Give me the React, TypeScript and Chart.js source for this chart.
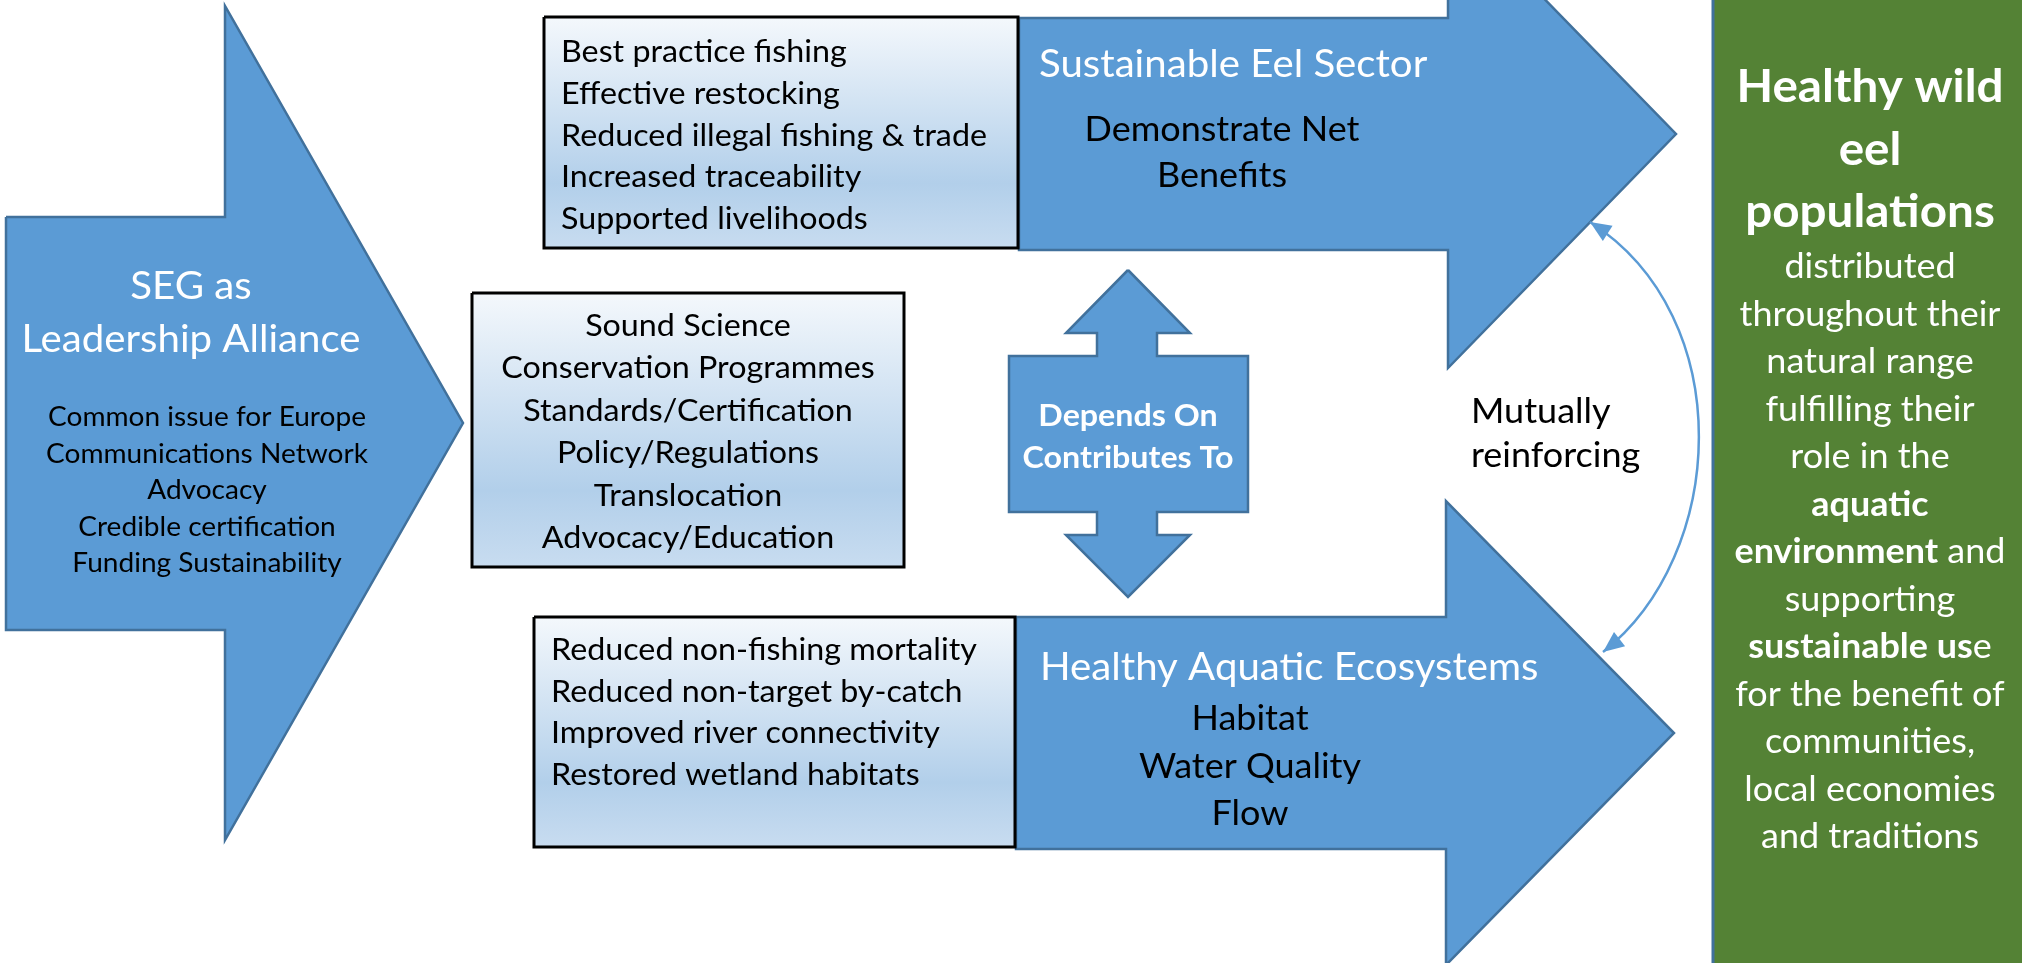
import React, { useEffect, useRef } from "react";
import { Chart, registerables } from "chart.js";

Chart.register(...registerables);

// ---------------- DATA (diagram coordinates = reference pixels) ----------------
const CANVAS_W = 2022;
const CANVAS_H = 963;

// shape outlines (vertex lists)
const segArrow: number[][] = [[6, 217], [225, 217], [225, 6], [463, 423], [225, 840], [225, 630], [6, 630]];
const sectorArrow: number[][] = [[1019, 18], [1448, 18], [1448, -100], [1676, 134], [1448, 368], [1448, 250], [1019, 250]];
const ecosystemArrow: number[][] = [[1016, 617], [1446, 617], [1446, 501], [1674, 733], [1446, 965], [1446, 849], [1016, 849]];
const linkArrow: number[][] = [
  [1128, 270], [1190, 333], [1157, 333], [1157, 356], [1248, 356], [1248, 512], [1157, 512], [1157, 535],
  [1190, 535], [1128, 597], [1066, 535], [1097, 535], [1097, 512], [1009, 512], [1009, 356], [1097, 356],
  [1097, 333], [1066, 333],
];
const fishingBox: number[][] = [[544, 17], [1018, 17], [1018, 248], [544, 248]];
const scienceBox: number[][] = [[472, 293], [904, 293], [904, 567], [472, 567]];
const ecosystemBox: number[][] = [[534, 617], [1015, 617], [1015, 847], [534, 847]];
const outcomePanel: number[][] = [[1713, -10], [2040, -10], [2040, 975], [1713, 975]];
// curved double-headed connector: start, control 1, control 2, end
const mutualCurve: number[][] = [[1590, 222], [1740, 318], [1726, 556], [1603, 652]];

// text content
const segTitle = ["SEG as", "Leadership Alliance"];
const segItems = ["Common issue for Europe", "Communications Network", "Advocacy", "Credible certification", "Funding Sustainability"];
const fishingItems = ["Best practice fishing", "Effective restocking", "Reduced illegal fishing & trade", "Increased traceability", "Supported livelihoods"];
const scienceItems = ["Sound Science", "Conservation Programmes", "Standards/Certification", "Policy/Regulations", "Translocation", "Advocacy/Education"];
const ecosystemItems = ["Reduced non-fishing mortality", "Reduced non-target by-catch", "Improved river connectivity", "Restored wetland habitats"];
const sectorTitle = ["Sustainable Eel Sector"];
const sectorItems = ["Demonstrate Net", "Benefits"];
const aquaticTitle = ["Healthy Aquatic Ecosystems"];
const aquaticItems = ["Habitat", "Water Quality", "Flow"];
const linkItems = ["Depends On", "Contributes To"];
const mutualItems = ["Mutually", "reinforcing"];
const outcomeHead = ["Healthy wild", "eel", "populations"];
type Run = [string, boolean];
const outcomeBody: Run[][] = [
  [["distributed", false]],
  [["throughout their", false]],
  [["natural range", false]],
  [["fulfilling their", false]],
  [["role in the", false]],
  [["aquatic", true]],
  [["environment", true], [" and", false]],
  [["supporting", false]],
  [["sustainable us", true], ["e", false]],
  [["for the benefit of", false]],
  [["communities,", false]],
  [["local economies", false]],
  [["and traditions", false]],
];

// ---------------- STYLE / LAYOUT ----------------
const BLUE = "#5B9BD5";
const BLUE_EDGE = "#41719C";
const GREEN = "#548235";
const FAMILY = "Lato, 'Open Sans', 'DejaVu Sans', sans-serif";
const SIZE_FACTOR = 0.9; // Lato vs Calibri size
// calibration: Calibri widths measured on the reference
const CAL_REG = { text: "Reduced illegal fishing & trade", size: 34.5, width: 426 };
const CAL_BOLD = { text: "Contributes To", size: 34.5, width: 211 };

type Align = "left" | "center";
interface Block {
  lines: Run[][];
  x: number;
  y0: number;
  dy: number;
  size: number;
  color: string;
  align: Align;
}
const plain = (arr: string[], bold = false): Run[][] => arr.map((t) => [[t, bold] as Run]);

const blocks: Block[] = [
  { lines: plain(segTitle), x: 191, y0: 299, dy: 53, size: 43, color: "#fff", align: "center" },
  { lines: plain(segItems), x: 207, y0: 426, dy: 36.6, size: 30, color: "#000", align: "center" },
  { lines: plain(fishingItems), x: 561, y0: 62, dy: 41.8, size: 34.5, color: "#000", align: "left" },
  { lines: plain(scienceItems), x: 688, y0: 336, dy: 42.4, size: 34.5, color: "#000", align: "center" },
  { lines: plain(ecosystemItems), x: 551, y0: 660, dy: 41.7, size: 34.5, color: "#000", align: "left" },
  { lines: plain(sectorTitle), x: 1039, y0: 77, dy: 0, size: 43, color: "#fff", align: "left" },
  { lines: plain(sectorItems), x: 1222, y0: 141, dy: 46, size: 38.5, color: "#000", align: "center" },
  { lines: plain(aquaticTitle), x: 1040, y0: 680, dy: 0, size: 43, color: "#fff", align: "left" },
  { lines: plain(aquaticItems), x: 1250, y0: 730, dy: 47.5, size: 38.5, color: "#000", align: "center" },
  { lines: plain(linkItems, true), x: 1128, y0: 426, dy: 42, size: 34.5, color: "#fff", align: "center" },
  { lines: plain(mutualItems), x: 1471, y0: 423, dy: 44, size: 38.5, color: "#000", align: "left" },
  { lines: plain(outcomeHead, true), x: 1870, y0: 102, dy: 62.5, size: 51, color: "#fff", align: "center" },
  { lines: outcomeBody, x: 1870, y0: 278, dy: 47.5, size: 38.5, color: "#fff", align: "center" },
];

interface ShapeDef {
  pts: number[][];
  fill: string;
  stroke: string;
  width: number;
  order: number;
}
const shapes: ShapeDef[] = [
  { pts: fishingBox, fill: "gradient", stroke: "#000", width: 3, order: 0 },
  { pts: scienceBox, fill: "gradient", stroke: "#000", width: 3, order: 0 },
  { pts: ecosystemBox, fill: "gradient", stroke: "#000", width: 3, order: 0 },
  { pts: segArrow, fill: BLUE, stroke: BLUE_EDGE, width: 2.5, order: 1 },
  { pts: sectorArrow, fill: BLUE, stroke: BLUE_EDGE, width: 2.5, order: 1 },
  { pts: ecosystemArrow, fill: BLUE, stroke: BLUE_EDGE, width: 2.5, order: 1 },
  { pts: linkArrow, fill: BLUE, stroke: BLUE_EDGE, width: 2.5, order: 1 },
  { pts: outcomePanel, fill: GREEN, stroke: BLUE_EDGE, width: 3, order: 1 },
];

function fontFor(size: number, bold: boolean) {
  return `${bold ? "bold " : ""}${(size * SIZE_FACTOR).toFixed(2)}px ${FAMILY}`;
}

const shapeFillPlugin = {
  id: "shapeFill",
  beforeDatasetDraw(chart: any, args: any) {
    const ds = chart.data.datasets[args.index];
    const pts = args.meta.data;
    if (!ds.shapeFill || pts.length < 3) return;
    const ctx: CanvasRenderingContext2D = chart.ctx;
    ctx.save();
    ctx.beginPath();
    pts.forEach((p: any, i: number) => (i ? ctx.lineTo(p.x, p.y) : ctx.moveTo(p.x, p.y)));
    ctx.closePath();
    if (ds.shapeFill === "gradient") {
      const ys = pts.map((p: any) => p.y);
      const top = Math.min(...ys);
      const bot = Math.max(...ys);
      const g = ctx.createLinearGradient(0, top, 0, bot);
      g.addColorStop(0, "#F4F8FC");
      g.addColorStop(0.72, "#B2CFEA");
      g.addColorStop(1, "#C8DCF0");
      ctx.fillStyle = g;
    } else {
      ctx.fillStyle = ds.shapeFill;
    }
    ctx.fill();
    ctx.restore();
  },
};

const curvePlugin = {
  id: "mutualCurve",
  afterDatasetsDraw(chart: any) {
    const ctx: CanvasRenderingContext2D = chart.ctx;
    const sx = chart.scales.x;
    const sy = chart.scales.y;
    const p = mutualCurve.map(([x, y]) => [sx.getPixelForValue(x), sy.getPixelForValue(y)]);
    ctx.save();
    ctx.strokeStyle = BLUE;
    ctx.fillStyle = BLUE;
    ctx.lineWidth = 2.5;
    ctx.beginPath();
    ctx.moveTo(p[0][0], p[0][1]);
    ctx.bezierCurveTo(p[1][0], p[1][1], p[2][0], p[2][1], p[3][0], p[3][1]);
    ctx.stroke();
    const head = (tip: number[], from: number[]) => {
      let dx = tip[0] - from[0];
      let dy = tip[1] - from[1];
      const len = Math.hypot(dx, dy) || 1;
      dx /= len;
      dy /= len;
      const L = 21;
      const w = 9;
      const bx = tip[0] - dx * L;
      const by = tip[1] - dy * L;
      ctx.beginPath();
      ctx.moveTo(tip[0], tip[1]);
      ctx.lineTo(bx - dy * w, by + dx * w);
      ctx.lineTo(bx + dy * w, by - dx * w);
      ctx.closePath();
      ctx.fill();
    };
    head(p[0], p[1]);
    head(p[3], p[2]);
    ctx.restore();
  },
};

const textPlugin = {
  id: "diagramText",
  afterDraw(chart: any) {
    const ctx: CanvasRenderingContext2D = chart.ctx;
    const sx = chart.scales.x;
    const sy = chart.scales.y;
    ctx.save();
    ctx.font = fontFor(CAL_REG.size, false);
    let kR = CAL_REG.width / ctx.measureText(CAL_REG.text).width;
    ctx.font = fontFor(CAL_BOLD.size, true);
    let kB = CAL_BOLD.width / ctx.measureText(CAL_BOLD.text).width;
    kR = Math.min(1.25, Math.max(0.75, kR || 1));
    kB = Math.min(1.25, Math.max(0.75, kB || 1));
    ctx.textBaseline = "alphabetic";
    ctx.textAlign = "left";
    for (const b of blocks) {
      ctx.fillStyle = b.color;
      b.lines.forEach((runs, i) => {
        const x = sx.getPixelForValue(b.x);
        const y = sy.getPixelForValue(b.y0 + i * b.dy);
        const widths = runs.map(([t, bold]) => {
          ctx.font = fontFor(b.size, bold);
          return ctx.measureText(t).width * (bold ? kB : kR);
        });
        const total = widths.reduce((a, c) => a + c, 0);
        let cx = b.align === "center" ? x - total / 2 : x;
        runs.forEach(([t, bold], j) => {
          ctx.font = fontFor(b.size, bold);
          ctx.save();
          ctx.translate(cx, y);
          ctx.scale(bold ? kB : kR, 1);
          ctx.fillText(t, 0, 0);
          ctx.restore();
          cx += widths[j];
        });
      });
    }
    ctx.restore();
  },
};

export default function App() {
  const ref = useRef<HTMLCanvasElement>(null);
  useEffect(() => {
    if (!ref.current) return;
    const chart = new Chart(ref.current, {
      type: "scatter",
      data: {
        datasets: shapes.map((s) => ({
          data: [...s.pts, s.pts[0]].map(([x, y]) => ({ x, y })),
          showLine: true,
          borderColor: s.stroke,
          borderWidth: s.width,
          borderJoinStyle: "miter",
          pointRadius: 0,
          pointHoverRadius: 0,
          tension: 0,
          fill: false,
          order: s.order,
          shapeFill: s.fill,
        })) as any,
      },
      options: {
        responsive: false,
        animation: false,
        events: [],
        layout: { padding: 0, autoPadding: false } as any,
        plugins: { legend: { display: false }, tooltip: { enabled: false } },
        scales: {
          x: { type: "linear", min: 0, max: CANVAS_W, display: false },
          y: { type: "linear", min: 0, max: CANVAS_H, reverse: true, display: false },
        },
      },
      plugins: [shapeFillPlugin, curvePlugin, textPlugin],
    });
    return () => chart.destroy();
  }, []);
  return (
    <div style={{ position: "fixed", left: 0, top: 0, width: CANVAS_W, height: CANVAS_H, background: "#fff" }}>
      <canvas ref={ref} width={CANVAS_W} height={CANVAS_H} style={{ display: "block" }} />
    </div>
  );
}
